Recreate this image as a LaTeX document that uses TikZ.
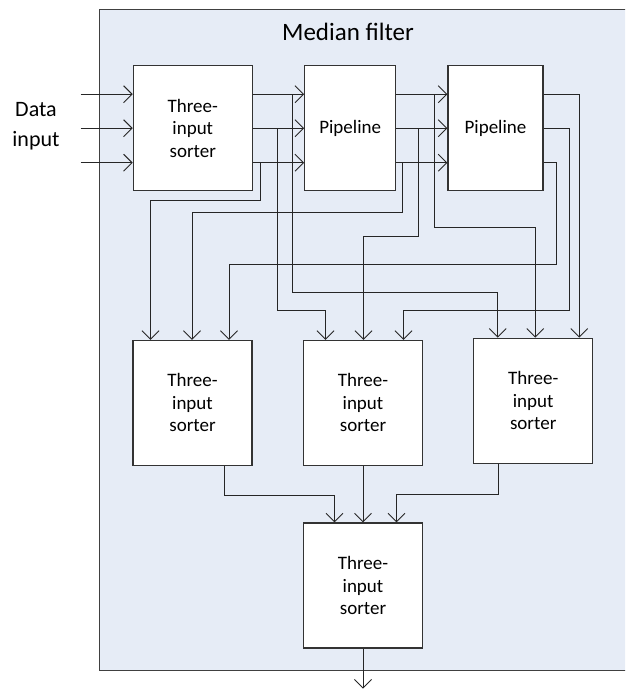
\documentclass[tikz,border=0pt]{standalone}
\usepackage{fontspec}
\setmainfont{Carlito}
\usetikzlibrary{arrows.meta}
\definecolor{filterbg}{RGB}{230,236,246}

\begin{document}
\begin{tikzpicture}[
  x=1pt, y=1pt,
  blk/.style={draw=black!80, line width=1.2pt, fill=white, inner sep=0pt, align=center, font=\fontsize{19}{22.5}\selectfont},
  sorter/.style={blk, minimum width=119pt, minimum height=125pt},
  pipe/.style={blk, minimum height=125pt},
  wire/.style={-{Straight Barb[length=8.5pt,width=17pt]}, line width=0.9pt, draw=black!85},
  lbl/.style={font=\fontsize{22}{29.5}\selectfont}
]
\clip (0,0) rectangle (625,690);
\node[draw=black!75, line width=1.3pt, fill=filterbg, minimum width=600pt, minimum height=661pt, inner sep=0pt] (filter) at (399.5,349.75) {};
\node[font=\fontsize{25}{30}\selectfont, anchor=base] (title) at (348,649) {Median filter};
\node[lbl, align=center, anchor=base] (data) at (36,543.5) {Data\\input};

\node[sorter] (sortA) at (192.8,561.8) {Three-\\input\\sorter};
\node[pipe, minimum width=91pt] (pipeA) at (350.2,561.8) {Pipeline};
\node[pipe, minimum width=95pt] (pipeB) at (495.5,561.8) {Pipeline};
\node[sorter] (sortB) at (192.5,287.1) {Three-\\input\\sorter};
\node[sorter] (sortC) at (363,287.1) {Three-\\input\\sorter};
\node[sorter] (sortD) at (533.2,289.2) {Three-\\input\\sorter};
\node[sorter] (sortE) at (363,104.5) {Three-\\input\\sorter};

\foreach \s/\n in {34/1,0/2,-34.5/3}{
  \coordinate (in\n) at ([xshift=-52pt,yshift=\s pt]sortA.west);
  \draw[wire] (in\n) -- ([yshift=\s pt]sortA.west);
  \draw[wire] ([yshift=\s pt]sortA.east) -- ([yshift=\s pt]pipeA.west);
  \draw[wire] ([yshift=\s pt]pipeA.east) -- ([yshift=\s pt]pipeB.west);
}

\draw[wire] ([yshift=34pt]sortA.east) -| (292,397.7) -| ([xshift=-35.5pt]sortD.north);
\draw[wire] ([yshift=34pt]pipeA.east) -| (434,462.7) -| ([xshift=2pt]sortD.north);
\draw[wire] ([yshift=34pt]pipeB.east) -| ([xshift=46pt]sortD.north);

\draw[wire] (sortA.east) -| (277,379.7) -| ([xshift=-37.5pt]sortC.north);
\draw[wire] (pipeA.east) -| (418.3,453.3) -| ([xshift=0.5pt]sortC.north);
\draw[wire] (pipeB.east) -| (569.5,380) -| ([xshift=40.5pt]sortC.north);

\draw[wire] ([yshift=-34.5pt]sortA.east) -| (260,490) -| ([xshift=-42pt]sortB.north);
\draw[wire] ([yshift=-34.5pt]pipeA.east) -| (402.3,477.3) -| ([xshift=-0.5pt]sortB.north);
\draw[wire] ([yshift=-34.5pt]pipeB.east) -| (556.7,425.7) -| ([xshift=36.5pt]sortB.north);

\draw[wire] ([xshift=32pt]sortB.south) |- ([xshift=-28.5pt,yshift=27pt]sortE.north) -- ([xshift=-28.5pt]sortE.north);
\draw[wire] (sortC) -- (sortE);
\draw[wire] ([xshift=-34.5pt]sortD.south) |- ([xshift=33.5pt,yshift=28pt]sortE.north) -- ([xshift=33.5pt]sortE.north);

\coordinate (out) at ([yshift=-40pt]sortE.south);
\draw[wire] (sortE) -- (out);
\end{tikzpicture}
\end{document}
